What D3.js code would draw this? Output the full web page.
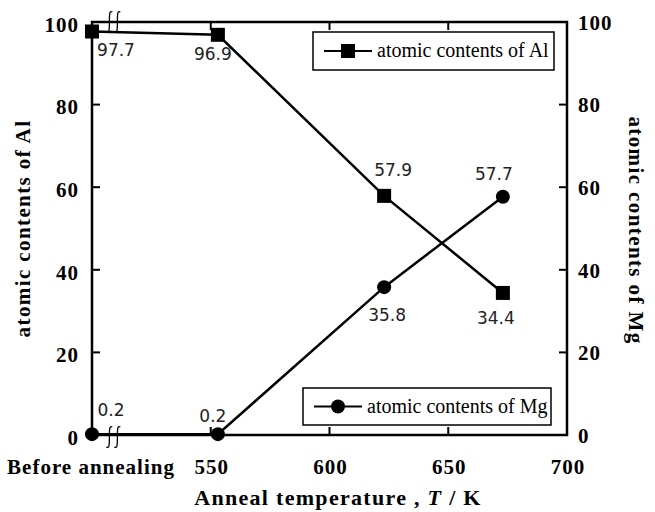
<!DOCTYPE html>
<html>
<head>
<meta charset="utf-8">
<script src="https://cdn.jsdelivr.net/npm/d3@7"></script>
<style>
  body { margin: 0; background: #fff; }
  svg { display: block; }
  .serif { font-family: "Liberation Serif", "Times New Roman", serif; }
  .lbl { font-family: "DejaVu Sans", sans-serif; font-size: 17px; fill: #222; }
</style>
</head>
<body>
<div id="vis"></div>
<script>
// temperatures (K); 500 is the slot used for "Before annealing"
const temps = [500, 553, 623, 673];
const alValues = [97.7, 96.9, 57.9, 34.4];
const mgValues = [0.2, 0.2, 35.8, 57.7];
const xTicks = [500, 550, 600, 650, 700];
const xTickLabels = ["Before annealing", "550", "600", "650", "700"];
const yTicks = [0, 20, 40, 60, 80, 100];

// label offsets from the marker (layout only)
const alLabelOff = [[24, 20], [-5, 20], [9, -25], [-7, 26]];
const mgLabelOff = [[19, -23], [-5, -17], [3, 29], [-9, -22]];

const width = 655, height = 512;
const plot = {left: 92, right: 567, top: 22, bottom: 435};

const svg = d3.select("#vis").append("svg")
  .attr("width", width)
  .attr("height", height);

const x = d3.scaleLinear().domain([500, 700]).range([plot.left, plot.right]);
const y = d3.scaleLinear().domain([0, 100]).range([plot.bottom, plot.top]);

// frame
svg.append("rect")
  .attr("x", plot.left).attr("y", plot.top)
  .attr("width", plot.right - plot.left)
  .attr("height", plot.bottom - plot.top)
  .attr("fill", "none").attr("stroke", "#000").attr("stroke-width", 2.5);

// inward ticks
const tickLen = 8;
const inner = yTicks.filter(d => d > 0 && d < 100);
svg.append("g").selectAll("line.l").data(inner).join("line")
  .attr("x1", plot.left).attr("x2", plot.left + tickLen)
  .attr("y1", d => y(d)).attr("y2", d => y(d))
  .attr("stroke", "#000").attr("stroke-width", 2);
svg.append("g").selectAll("line.r").data(inner).join("line")
  .attr("x1", plot.right).attr("x2", plot.right - tickLen)
  .attr("y1", d => y(d)).attr("y2", d => y(d))
  .attr("stroke", "#000").attr("stroke-width", 2);
const xInner = xTicks.filter(d => d > 500 && d < 700);
svg.append("g").selectAll("line.b").data(xInner).join("line")
  .attr("x1", d => x(d)).attr("x2", d => x(d))
  .attr("y1", plot.bottom).attr("y2", plot.bottom - tickLen)
  .attr("stroke", "#000").attr("stroke-width", 2);
svg.append("g").selectAll("line.t").data(xInner).join("line")
  .attr("x1", d => x(d)).attr("x2", d => x(d))
  .attr("y1", plot.top).attr("y2", plot.top + tickLen)
  .attr("stroke", "#000").attr("stroke-width", 2);

// tick labels
const tickFont = g => g.attr("class", "serif")
  .attr("font-size", 21).attr("font-weight", "bold").attr("letter-spacing", 1);
svg.append("g").call(tickFont)
  .selectAll("text").data(yTicks).join("text")
  .attr("x", plot.left - 13).attr("y", d => y(d) + 5)
  .attr("text-anchor", "end").attr("dominant-baseline", "middle")
  .text(d => d);
svg.append("g").call(tickFont)
  .selectAll("text").data(yTicks).join("text")
  .attr("x", plot.right + 11).attr("y", d => y(d) + 3)
  .attr("dominant-baseline", "middle")
  .text(d => d);
svg.append("g").call(tickFont)
  .selectAll("text").data(xTicks).join("text")
  .attr("x", (d, i) => i == 0 ? x(d) - 1 : x(d) + 1)
  .attr("y", plot.bottom + 39)
  .attr("text-anchor", "middle")
  .text((d, i) => xTickLabels[i]);

// axis titles
svg.append("text").attr("class", "serif")
  .attr("font-size", 21).attr("font-weight", "bold").attr("letter-spacing", 1.4)
  .attr("transform", `translate(30, ${(plot.top + plot.bottom) / 2}) rotate(-90)`)
  .attr("text-anchor", "middle")
  .text("atomic contents of Al");
svg.append("text").attr("class", "serif")
  .attr("font-size", 21).attr("font-weight", "bold").attr("letter-spacing", 1.4)
  .attr("transform", `translate(629, ${(plot.top + plot.bottom) / 2 + 2}) rotate(90)`)
  .attr("text-anchor", "middle")
  .text("atomic contents of Mg");
const xt = svg.append("text").attr("class", "serif")
  .attr("font-size", 22).attr("font-weight", "bold").attr("letter-spacing", 1.3)
  .attr("x", 338).attr("y", 505)
  .attr("text-anchor", "middle");
xt.append("tspan").text("Anneal temperature , ");
xt.append("tspan").attr("font-style", "italic").text("T");
xt.append("tspan").text(" / K");

// axis break marks
function breakMark(cx, cy) {
  const g = svg.append("g").attr("fill", "none").attr("stroke", "#000").attr("stroke-width", 1.3);
  [-4, 4].forEach(dx => {
    g.append("path").attr("d",
      `M${cx + dx + 3},${cy - 10} C${cx + dx},${cy - 12} ${cx + dx},${cy - 7} ${cx + dx},${cy}` +
      ` C${cx + dx},${cy + 7} ${cx + dx},${cy + 12} ${cx + dx - 3},${cy + 10}`);
  });
}
breakMark(x(509), plot.top);
breakMark(x(509), plot.bottom + 2);

// series
const line = d3.line().x(d => x(d[0])).y(d => y(d[1]));
const alData = temps.map((t, i) => [t, alValues[i]]);
const mgData = temps.map((t, i) => [t, mgValues[i]]);

svg.append("path").datum(alData).attr("d", line)
  .attr("fill", "none").attr("stroke", "#000").attr("stroke-width", 2.5);
svg.append("path").datum(mgData).attr("d", line)
  .attr("fill", "none").attr("stroke", "#000").attr("stroke-width", 2.5);

const sq = 14;
svg.append("g").selectAll("rect").data(alData).join("rect")
  .attr("x", d => x(d[0]) - sq / 2).attr("y", d => y(d[1]) - sq / 2)
  .attr("width", sq).attr("height", sq).attr("fill", "#000");
svg.append("g").selectAll("circle").data(mgData).join("circle")
  .attr("cx", d => x(d[0])).attr("cy", d => y(d[1]))
  .attr("r", 7).attr("fill", "#000");

// data labels
svg.append("g").selectAll("text").data(alData).join("text")
  .attr("class", "lbl")
  .attr("x", (d, i) => x(d[0]) + alLabelOff[i][0])
  .attr("y", (d, i) => y(d[1]) + alLabelOff[i][1])
  .attr("text-anchor", "middle").attr("dominant-baseline", "middle")
  .text(d => d[1].toFixed(1));
svg.append("g").selectAll("text").data(mgData).join("text")
  .attr("class", "lbl")
  .attr("x", (d, i) => x(d[0]) + mgLabelOff[i][0])
  .attr("y", (d, i) => y(d[1]) + mgLabelOff[i][1])
  .attr("text-anchor", "middle").attr("dominant-baseline", "middle")
  .text(d => d[1].toFixed(1));

// legends
function legend(x0, y0, w, h, name, marker) {
  const g = svg.append("g");
  g.append("rect").attr("x", x0).attr("y", y0).attr("width", w).attr("height", h)
    .attr("fill", "#fff").attr("stroke", "#000").attr("stroke-width", 1.5);
  const cy = y0 + h / 2;
  g.append("line").attr("x1", x0 + 11).attr("x2", x0 + 59)
    .attr("y1", cy).attr("y2", cy).attr("stroke", "#000").attr("stroke-width", 2);
  if (marker == "square") {
    g.append("rect").attr("x", x0 + 35 - sq / 2).attr("y", cy - sq / 2)
      .attr("width", sq).attr("height", sq).attr("fill", "#000");
  } else {
    g.append("circle").attr("cx", x0 + 35).attr("cy", cy).attr("r", 7).attr("fill", "#000");
  }
  g.append("text").attr("class", "serif").attr("font-size", 20)
    .attr("x", x0 + 64).attr("y", cy + 6).text(name);
}
legend(313, 32, 241, 38, "atomic contents of Al", "square");
legend(303, 388, 248, 37, "atomic contents of Mg", "circle");
</script>
</body>
</html>
